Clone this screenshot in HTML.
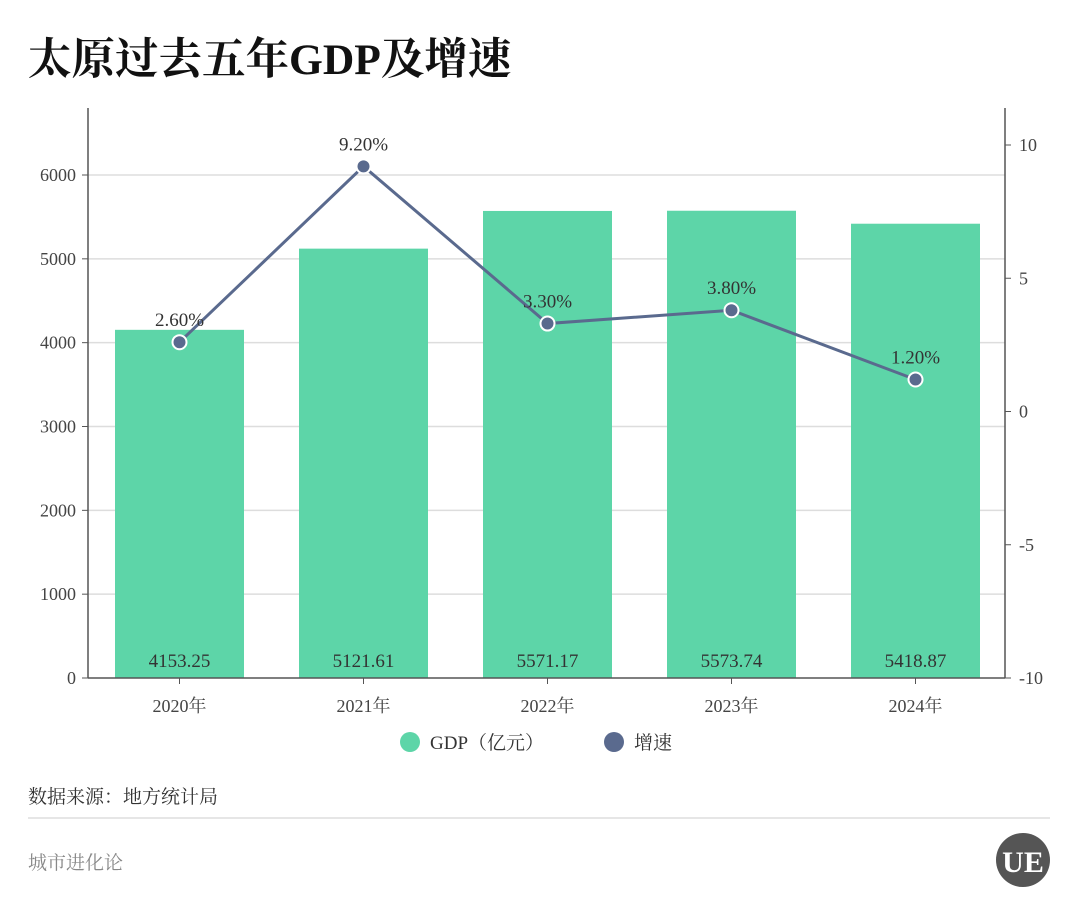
<!DOCTYPE html>
<html><head><meta charset="utf-8"><style>
body{margin:0;background:#fff;}
svg text{font-family:"Liberation Serif","Noto Serif CJK SC",serif;}
</style></head><body>
<svg width="1080" height="918" viewBox="0 0 1080 918" xmlns="http://www.w3.org/2000/svg">
<text x="28" y="74" font-size="43.5" font-weight="bold" fill="#111">太原过去五年GDP及增速</text>
<g id="grid"></g><g id="bars"></g><g id="line"></g><g id="axes"></g>
<g>
<circle cx="410" cy="742" r="10" fill="#5dd5a8"/>
<text x="430" y="749" font-size="19" fill="#333" font-family="Liberation Sans,Noto Sans CJK SC,sans-serif">GDP（亿元）</text>
<circle cx="614" cy="742" r="10" fill="#5a6a8e"/>
<text x="634" y="749" font-size="19" fill="#333" font-family="Liberation Sans,Noto Sans CJK SC,sans-serif">增速</text>
</g>
<text x="28" y="803" font-size="19" fill="#333" font-family="Liberation Sans,Noto Sans CJK SC,sans-serif">数据来源：地方统计局</text>
<line x1="28" y1="818" x2="1050" y2="818" stroke="#ddd" stroke-width="1.5"/>
<text x="28" y="869" font-size="19" fill="#888" font-family="Liberation Sans,Noto Sans CJK SC,sans-serif">城市进化论</text>
<g>
<circle cx="1023" cy="860" r="27" fill="#555"/>
<text x="1023" y="872" font-size="30" font-weight="bold" fill="#fff" text-anchor="middle" font-family="Liberation Sans,sans-serif">UE</text>
</g>
</svg>
<script>
const categories=["2020年","2021年","2022年","2023年","2024年"];
const gdpValues=[4153.25,5121.61,5571.17,5573.74,5418.87];
const growthValues=[2.6,9.2,3.3,3.8,1.2];
const leftTicks=[0,1000,2000,3000,4000,5000,6000];
const rightTicks=[-10,-5,0,5,10];
const NS="http://www.w3.org/2000/svg";
const L=88,R=1005,B=678;
const yL=v=>B-v*(503/6000);
const yR=v=>411.5-v*(533/20);
const xC=i=>179.5+i*184;
function mk(tag,attrs,parent,txt){const e=document.createElementNS(NS,tag);for(const k in attrs)e.setAttribute(k,attrs[k]);if(txt!==undefined)e.textContent=txt;document.getElementById(parent).appendChild(e);return e;}
leftTicks.forEach(t=>{
 if(t>0){const g=mk('line',{x1:L,x2:R,y1:yL(t),y2:yL(t),stroke:'#ddd','stroke-width':1.5},'grid');
 
 }
 const tx=mk('text',{x:L-12,y:yL(t)+6,'font-size':18,fill:'#444','text-anchor':'end'},'axes',String(t));
 
 
 mk('line',{x1:L-6,x2:L,y1:yL(t),y2:yL(t),stroke:'#555'},'axes');
});
rightTicks.forEach(t=>{
 const tx=mk('text',{x:R+14,y:yR(t)+6,'font-size':18,fill:'#444'},'axes',String(t));
 
 
 mk('line',{x1:R,x2:R+6,y1:yR(t),y2:yR(t),stroke:'#555'},'axes');
});
mk('line',{x1:L,x2:L,y1:108,y2:B,stroke:'#555','stroke-width':1.5},'axes');
mk('line',{x1:R,x2:R,y1:108,y2:B,stroke:'#555','stroke-width':1.5},'axes');
mk('line',{x1:L,x2:R,y1:B,y2:B,stroke:'#555','stroke-width':1.5},'axes');
categories.forEach((c,i)=>{
 const b=mk('rect',{x:xC(i)-64.5,y:yL(gdpValues[i]),width:129,height:B-yL(gdpValues[i]),fill:'#5dd5a8'},'bars');
 
 
 const v=mk('text',{x:xC(i),y:667,'font-size':19,fill:'#333','text-anchor':'middle'},'bars',gdpValues[i].toFixed(2));
 
 
 const xl=mk('text',{x:xC(i),y:712,'font-size':18,fill:'#444','text-anchor':'middle'},'axes',c);
 
 
 mk('line',{x1:xC(i),x2:xC(i),y1:B,y2:B+6,stroke:'#555'},'axes');
});
const pts=growthValues.map((v,i)=>xC(i)+','+yR(v)).join(' ');
const pl=mk('polyline',{points:pts,fill:'none',stroke:'#5a6a8e','stroke-width':3},'line');


growthValues.forEach((v,i)=>{
 const c=mk('circle',{cx:xC(i),cy:yR(v),r:7,fill:'#5a6a8e',stroke:'#fff','stroke-width':2},'line');
 
 
 const t=mk('text',{x:xC(i),y:yR(v)-16,'font-size':19,fill:'#333','text-anchor':'middle'},'line',v.toFixed(2)+'%');
 
 
});
</script>
</body></html>
